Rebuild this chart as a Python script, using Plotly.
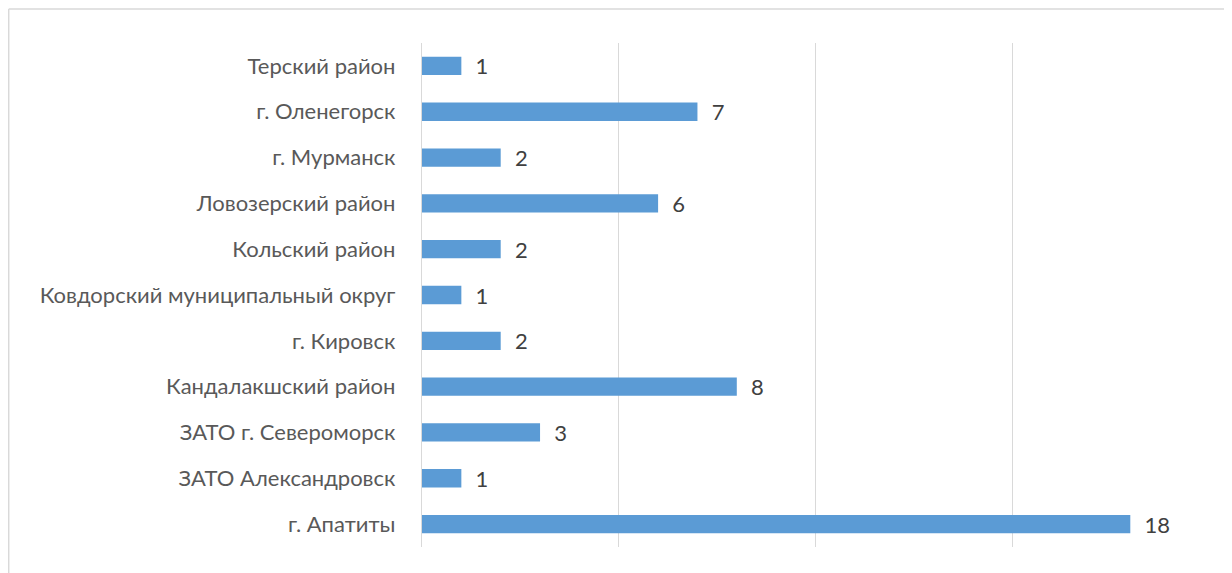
import plotly.graph_objects as go

categories = [
    "г. Апатиты",
    "ЗАТО Александровск",
    "ЗАТО г. Североморск",
    "Кандалакшский район",
    "г. Кировск",
    "Ковдорский муниципальный округ",
    "Кольский район",
    "Ловозерский район",
    "г. Мурманск",
    "г. Оленегорск",
    "Терский район",
]
values = [18, 1, 3, 8, 2, 1, 2, 6, 2, 7, 1]

W, H = 1232, 573
OFF = 8  # page body margin
L, R, T, B = 422 - OFF, 1209 - OFF, 43 - OFF, 547 - OFF  # plot area in figure pixels
pw, ph = R - L, B - T

def px(x):
    return (x - L) / pw

def py(y):
    return (B - y) / ph

FONT = "Lato"
NB = "\u00a0"

fig = go.Figure()
fig.add_trace(go.Bar(
    x=values,
    y=categories,
    orientation="h",
    marker=dict(color="#5B9BD5", line=dict(width=0)),
    width=0.4,
    text=[NB * 2 + str(v) for v in values],
    textposition="outside",
    constraintext="none",
    textfont=dict(family=FONT, size=22, color="#404040"),
    cliponaxis=False,
    hoverinfo="x+y",
))

fig.update_layout(
    width=W,
    height=H,
    margin=dict(l=L, r=W - R, t=T, b=H - B, pad=0),
    paper_bgcolor="white",
    plot_bgcolor="white",
    showlegend=False,
    xaxis=dict(
        range=[0, 20],
        dtick=5,
        showticklabels=False,
        showgrid=True,
        gridcolor="#d9d9d9",
        gridwidth=1.3,
        zeroline=False,
        showline=False,
        fixedrange=True,
    ),
    yaxis=dict(
        categoryorder="array",
        categoryarray=categories,
        showgrid=False,
        showline=True,
        linecolor="#d9d9d9",
        linewidth=1.3,
        ticks="",
        ticklabelstandoff=21,
        tickfont=dict(family=FONT, size=22, color="#595959"),
        zeroline=False,
        fixedrange=True,
    ),
    shapes=[
        dict(type="line", xref="paper", yref="paper",
             x0=px(0.7), x1=px(W + 20), y0=py(1), y1=py(1),
             line=dict(color="#d9d9d9", width=1.5)),
        dict(type="line", xref="paper", yref="paper",
             x0=px(0.7), x1=px(0.7), y0=py(1), y1=py(H + 20),
             line=dict(color="#d9d9d9", width=1.5)),
    ],
)

fig.write_html("out.html")
